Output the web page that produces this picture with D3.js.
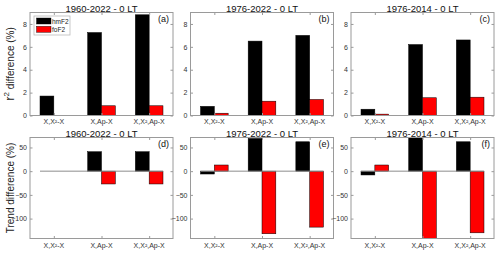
<!DOCTYPE html>
<html>
<head>
<meta charset="utf-8">
<script src="https://cdn.jsdelivr.net/npm/d3@7"></script>
<style>
  body { margin: 0; background: #fff; }
  svg { font-family: "Liberation Sans", Arial, sans-serif; }
</style>
</head>
<body>
<div id="chart"></div>
<script>
const categories = ["X,X\u00b2-X", "X,Ap-X", "X,X\u00b2,Ap-X"];
const titles = ["1960-2022 - 0 LT", "1976-2022 - 0 LT", "1976-2014 - 0 LT"];
const panelLabels = [["(a)", "(b)", "(c)"], ["(d)", "(e)", "(f)"]];
const seriesNames = ["hmF2", "foF2"];

// r2 difference (%)
const r2HmF2 = [[1.7, 7.25, 8.8], [0.8, 6.5, 7.0], [0.55, 6.2, 6.6]];
const r2FoF2 = [[0, 0.85, 0.85], [0.2, 1.25, 1.4], [0.12, 1.55, 1.6]];
// trend difference (%)
const trendHmF2 = [[0, 41, 41], [-6, 69, 62], [-8, 71, 62]];
const trendFoF2 = [[0, -27, -27], [13, -132, -118], [13, -142, -130]];

const r2Ticks = [0, 2, 4, 6, 8];
const trendTicks = [-100, -50, 0, 50];

const W = 500, H = 255;
const lefts = [30, 190.5, 351];
const pw = 143;
const barW = 0.29;
const colors = ["#000000", "#ff0000"];
const boxColor = "#9a9a9a";

const rows = [
  { top: 12.5, bottom: 115.5, domain: [0, 9], ticks: r2Ticks, hm: r2HmF2, fo: r2FoF2,
    titleY: 11.5, labelY: 124, ylabel: "r2" },
  { top: 137.5, bottom: 238.5, domain: [-142, 71], ticks: trendTicks, hm: trendHmF2, fo: trendFoF2,
    titleY: 136.5, labelY: 247.5, ylabel: "Trend difference (%)" }
];

const svg = d3.select("#chart").append("svg")
  .attr("width", W).attr("height", H);

rows.forEach((row, ri) => {
  const y = d3.scaleLinear().domain(row.domain).range([row.bottom, row.top]);

  titles.forEach((title, pi) => {
    const x = d3.scaleLinear().domain([0.5, 3.5]).range([lefts[pi], lefts[pi] + pw]);
    const g = svg.append("g");

    // bars
    const bars = [];
    categories.forEach((c, ci) => {
      bars.push({ s: 0, x0: ci + 1 - barW, v: row.hm[pi][ci] });
      bars.push({ s: 1, x0: ci + 1, v: row.fo[pi][ci] });
    });
    g.selectAll("rect.bar").data(bars).enter().append("rect")
      .attr("class", "bar")
      .attr("x", d => x(d.x0))
      .attr("width", d => x(d.x0 + barW) - x(d.x0))
      .attr("y", d => y(Math.max(0, d.v)))
      .attr("height", d => Math.abs(y(d.v) - y(0)))
      .attr("fill", d => colors[d.s])
      .attr("stroke", "#000")
      .attr("stroke-width", 0.5);

    // baseline
    if (ri === 1) {
      g.append("line")
        .attr("x1", x(1 - barW)).attr("x2", x(3 + barW))
        .attr("y1", y(0)).attr("y2", y(0))
        .attr("stroke", "#8c8c8c").attr("stroke-width", 1);
    }

    // axes with inward ticks
    const yl = g.append("g").attr("transform", `translate(${lefts[pi]},0)`)
      .call(d3.axisLeft(y).tickValues(row.ticks).tickSize(-2.5).tickPadding(3));
    const yr = g.append("g").attr("transform", `translate(${lefts[pi] + pw},0)`)
      .call(d3.axisRight(y).tickValues(row.ticks).tickSize(-2.5).tickFormat(""));
    const xb = g.append("g").attr("transform", `translate(0,${row.bottom})`)
      .call(d3.axisBottom(x).tickValues([1, 2, 3]).tickSize(-2.5)
        .tickFormat(""));
    const xt = g.append("g").attr("transform", `translate(0,${row.top})`)
      .call(d3.axisTop(x).tickValues([1, 2, 3]).tickSize(-2.5).tickFormat(""));
    [yl, yr, xb, xt].forEach(a => {
      a.select(".domain").remove();
      a.selectAll("line").attr("stroke", boxColor);
    });
    yl.selectAll("text").attr("font-size", 7).attr("fill", "#333")
      .attr("font-family", "Liberation Sans, Arial, sans-serif");

    g.selectAll("text.xl").data(categories).enter().append("text")
      .attr("class", "xl")
      .attr("x", (d, i) => x(i + 1))
      .attr("y", row.labelY)
      .attr("text-anchor", "middle")
      .attr("font-size", 7)
      .attr("fill", "#333")
      .text(d => d);

    // box
    g.append("rect")
      .attr("x", lefts[pi]).attr("y", row.top)
      .attr("width", pw).attr("height", row.bottom - row.top)
      .attr("fill", "none").attr("stroke", boxColor).attr("stroke-width", 1);

    // title
    g.append("text")
      .attr("x", lefts[pi] + pw / 2).attr("y", row.titleY)
      .attr("text-anchor", "middle").attr("font-size", 9.5).attr("fill", "#111")
      .text(title);

    // panel label
    g.append("text")
      .attr("x", lefts[pi] + pw - 4).attr("y", row.top + 9)
      .attr("text-anchor", "end").attr("font-size", 9).attr("fill", "#111")
      .text(panelLabels[ri][pi]);

    // legend in first panel
    if (ri === 0 && pi === 0) {
      const lg = g.append("g").attr("transform", `translate(${lefts[0] + 4},${row.top + 3.5})`);
      lg.append("rect").attr("width", 36).attr("height", 19)
        .attr("fill", "#fff").attr("stroke", "#bbb").attr("stroke-width", 0.8);
      seriesNames.forEach((n, i) => {
        lg.append("rect").attr("x", 2.5).attr("y", 2 + i * 8.3)
          .attr("width", 14.5).attr("height", 6)
          .attr("fill", colors[i]).attr("stroke", "#000").attr("stroke-width", 0.4);
        lg.append("text").attr("x", 18).attr("y", 7.5 + i * 8.3)
          .attr("font-size", 6.5).attr("fill", "#222").text(n);
      });
    }
  });

  // y label
  const cy = (row.top + row.bottom) / 2;
  const yt = svg.append("text")
    .attr("transform", `translate(13.5,${cy}) rotate(-90)`)
    .attr("text-anchor", "middle")
    .attr("font-size", 10).attr("fill", "#222");
  if (row.ylabel === "r2") {
    yt.append("tspan").attr("font-size", 13).text("r");
    yt.append("tspan").attr("font-size", 8).attr("dy", -5).text("2");
    yt.append("tspan").attr("dy", 5).text(" difference (%)");
  } else {
    yt.text(row.ylabel);
  }
});
</script>
</body>
</html>
